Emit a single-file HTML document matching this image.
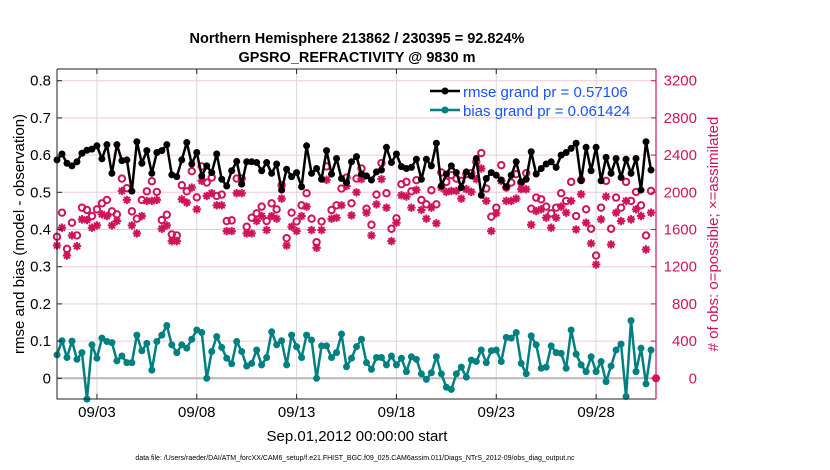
<!DOCTYPE html>
<html><head><meta charset="utf-8">
<style>
body{margin:0;background:#fff;}
svg{display:block;font-family:"Liberation Sans",Arial,sans-serif;}
</style></head>
<body>
<svg id="chart" width="830" height="470" viewBox="0 0 830 470" xmlns="http://www.w3.org/2000/svg">
<rect x="0" y="0" width="830" height="470" fill="#fff"/>
<text x="357" y="43" text-anchor="middle" font-size="14.5" font-weight="bold">Northern Hemisphere 213862 / 230395 = 92.824%</text>
<text x="357" y="62" text-anchor="middle" font-size="14.5" font-weight="bold">GPSRO_REFRACTIVITY @ 9830 m</text>
<g id="grid"></g>
<g id="marks"></g>
<g id="axes"></g>
<text transform="translate(24,234) rotate(-90)" text-anchor="middle" font-size="15">rmse and bias (model - observation)</text>
<text transform="translate(718,234) rotate(-90)" text-anchor="middle" font-size="15" fill="#d0145a"># of obs: o=possible; ×=assimilated</text>
<text x="357" y="441" text-anchor="middle" font-size="15">Sep.01,2012 00:00:00 start</text>
<text x="355" y="460" text-anchor="middle" font-size="7">data file: /Users/raeder/DAI/ATM_forcXX/CAM6_setup/f.e21.FHIST_BGC.f09_025.CAM6assim.011/Diags_NTrS_2012-09/obs_diag_output.nc</text>
<g id="legend">
<line x1="430" y1="91" x2="460" y2="91" stroke="#000" stroke-width="2.5"/>
<circle cx="445" cy="91" r="3.5" fill="#000"/>
<text x="463" y="97" font-size="15" fill="#1a50ff">rmse grand pr = 0.57106</text>
<line x1="430" y1="110" x2="460" y2="110" stroke="#008080" stroke-width="2.5"/>
<circle cx="445" cy="110" r="3.5" fill="#008080"/>
<text x="463" y="116" font-size="15" fill="#1a50ff">bias grand pr = 0.061424</text>
</g>
</svg>
<script>
const rmse=[.587,.603,.578,.571,.582,.605,.613,.616,.625,.590,.628,.551,.628,.585,.587,.503,.636,.578,.612,.551,.607,.612,.628,.547,.542,.587,.634,.576,.607,.544,
.571,.553,.603,.535,.517,.558,.583,.522,.582,.582,.580,.558,.580,.551,.576,.506,.562,.542,.553,.515,.625,.551,.564,.535,.612,.549,.591,.537,.526,.582,
.596,.549,.544,.533,.555,.560,.621,.580,.603,.569,.564,.567,.589,.535,.589,.571,.632,.517,.549,.571,.553,.513,.555,.544,.591,.492,.537,.553,.546,.533,
.515,.546,.582,.528,.535,.609,.549,.564,.576,.582,.567,.600,.607,.618,.632,.531,.621,.558,.621,.531,.594,.551,.591,.540,.589,.551,.591,.506,.636,.560];
const bias=[.063,.101,.056,.100,.051,.069,-.056,.090,.054,.108,.099,.096,.047,.060,.042,.042,.116,.074,.094,.022,.099,.116,.142,.090,.069,.090,.081,.105,.130,.123,
0,.072,.112,.083,.054,.039,.099,.072,.033,.040,.076,.036,.056,.125,.090,.101,.036,.116,.085,.056,.116,.103,0,.087,.087,.056,.069,.119,.031,.054,
.085,.105,.042,.024,.056,.056,.036,.060,.036,.054,.018,.058,.051,.012,-.003,.015,.058,.012,-.024,-.030,.012,.030,.003,.049,.045,.076,.042,.074,.076,.045,
.110,.108,.123,.040,.012,.114,.090,.027,.030,.087,.069,.067,.027,.130,.065,.036,.018,.058,.018,.045,-.009,.033,.076,.092,-.049,.155,.018,.081,-.015,.076];
const possible=[1522,1781,1392,1673,1536,1835,1810,1745,1817,1882,1918,1795,1763,2148,2044,1795,1716,1918,2011,2119,2004,1702,1759,1547,1536,2076,2011,2227,1946,2278,
2105,2159,1961,1975,1691,1698,2148,2148,1630,1727,1774,1846,1691,1882,1817,2076,1507,1781,1687,1860,1990,1716,1464,1687,2278,1810,1860,2040,2159,1882,
2148,2256,1824,1651,1975,2314,1990,1608,1720,2087,2112,2011,2130,1918,1871,2022,1871,2213,2112,2184,2148,2123,2195,2206,2328,2422,2040,1738,1835,2292,
2051,2105,2195,2105,2206,1824,1943,1925,1846,1774,1835,1990,1907,2112,1745,2134,1817,1608,1320,1835,2123,1608,1943,1835,2112,1907,2004,1860,1536,2015];
const assimilated=[1428,1619,1320,1536,1421,1709,1702,1619,1644,1763,1745,1644,1691,2015,1918,1644,1558,1745,1907,1907,1918,1608,1644,1475,1475,1925,1889,2051,1817,2123,
1961,1990,1860,1860,1583,1583,1990,1990,1558,1558,1691,1745,1594,1745,1716,1932,1428,1630,1583,1745,1846,1594,1403,1594,2134,1716,1727,1860,2069,1752,
2000,2141,1781,1536,1871,2141,1835,1475,1673,1968,1954,1835,2026,1810,1716,1835,1666,2051,2004,2015,2015,1932,2033,2004,2141,2256,1907,1583,1774,2123,
1907,1907,1932,2033,2033,1651,1799,1817,1727,1619,1727,1846,1781,1907,1601,1979,1673,1450,1223,1709,1954,1439,1781,1691,1907,1709,1817,1745,1385,1781];
const leftTicks=[0,0.1,0.2,0.3,0.4,0.5,0.6,0.7,0.8];
const leftTickLabels=["0","0.1","0.2","0.3","0.4","0.5","0.6","0.7","0.8"];
const rightTicks=[0,400,800,1200,1600,2000,2400,2800,3200];
const dateTicks=[2,7,12,17,22,27];
const dateTickLabels=["09/03","09/08","09/13","09/18","09/23","09/28"];

const NS='http://www.w3.org/2000/svg';
const L=57,R=656,T=69,B=399;
const xs=d=>L+d*(R-L)/30;
const yl=v=>378.3-v*372;
const yr=c=>378.3-c*0.093;
function mk(tag,attrs,parent){const e=document.createElementNS(NS,tag);for(const k in attrs)e.setAttribute(k,attrs[k]);parent.appendChild(e);return e;}
const grid=document.getElementById('grid'),marks=document.getElementById('marks'),axes=document.getElementById('axes');

mk('rect',{x:L,y:T,width:R-L,height:B-T,fill:'#fff'},grid);
leftTicks.forEach(v=>{const g=mk('line',{x1:L,x2:R,y1:yl(v),y2:yl(v),stroke:'#f3c6d6','stroke-width':1},grid);

});
dateTicks.forEach(d=>{const g=mk('line',{x1:xs(d),x2:xs(d),y1:T,y2:B,stroke:'#d8d8d8','stroke-width':1},grid);

});
const z=mk('line',{x1:L,x2:R,y1:yl(0),y2:yl(0),stroke:'#c0b4b8','stroke-width':2},grid);



const xt=i=>xs(i*0.25);
possible.forEach((c,i)=>{const e=mk('circle',{cx:xt(i),cy:yr(c),r:3.2,fill:'none',stroke:'#d0145a','stroke-width':2},marks);

});
assimilated.forEach((c,i)=>{const x=xt(i),y=yr(c),s=4.2,d=3;
const g=mk('path',{d:`M${x-s} ${y}H${x+s}M${x} ${y-s}V${y+s}M${x-d} ${y-d}L${x+d} ${y+d}M${x-d} ${y+d}L${x+d} ${y-d}`,stroke:'#d0145a','stroke-width':2,fill:'none'},marks);

});
function series(vals,color,name){
const p=mk('polyline',{points:vals.map((v,i)=>xt(i)+','+yl(v)).join(' '),fill:'none',stroke:color,'stroke-width':2.5,'stroke-linejoin':'round'},marks);


vals.forEach((v,i)=>{const c=mk('circle',{cx:xt(i),cy:yl(v),r:3.5,fill:color},marks);

});}
series(rmse,'#000','rmse');
series(bias,'#008080','bias');
const rm=mk('circle',{cx:R,cy:yr(0),r:4,fill:'#e0104a'},marks);



const fr=mk('path',{d:`M${L} ${T}V${B}H${R}`,stroke:'#222','stroke-width':1,fill:'none'},axes);


const ra=mk('line',{x1:R,x2:R,y1:T,y2:B,stroke:'#d0145a','stroke-width':1.2},axes);


mk('line',{x1:L,x2:R,y1:T,y2:T,stroke:'#222','stroke-width':1},axes);
leftTicks.forEach((v,i)=>{mk('line',{x1:L,x2:L+5,y1:yl(v),y2:yl(v),stroke:'#222'},axes);
const t=mk('text',{x:L-6,y:yl(v)+5,'text-anchor':'end','font-size':15},axes);t.textContent=leftTickLabels[i];

});
rightTicks.forEach(c=>{mk('line',{x1:R-5,x2:R,y1:yr(c),y2:yr(c),stroke:'#d0145a'},axes);
const t=mk('text',{x:697,y:yr(c)+5,'text-anchor':'end','font-size':15,fill:'#d0145a'},axes);t.textContent=String(c);

});
dateTicks.forEach((d,i)=>{mk('line',{x1:xs(d),x2:xs(d),y1:B,y2:B-5,stroke:'#222'},axes);
mk('line',{x1:xs(d),x2:xs(d),y1:T,y2:T+5,stroke:'#222'},axes);
const t=mk('text',{x:xs(d),y:B+18,'text-anchor':'middle','font-size':15},axes);t.textContent=dateTickLabels[i];

});
</script>
</body></html>
